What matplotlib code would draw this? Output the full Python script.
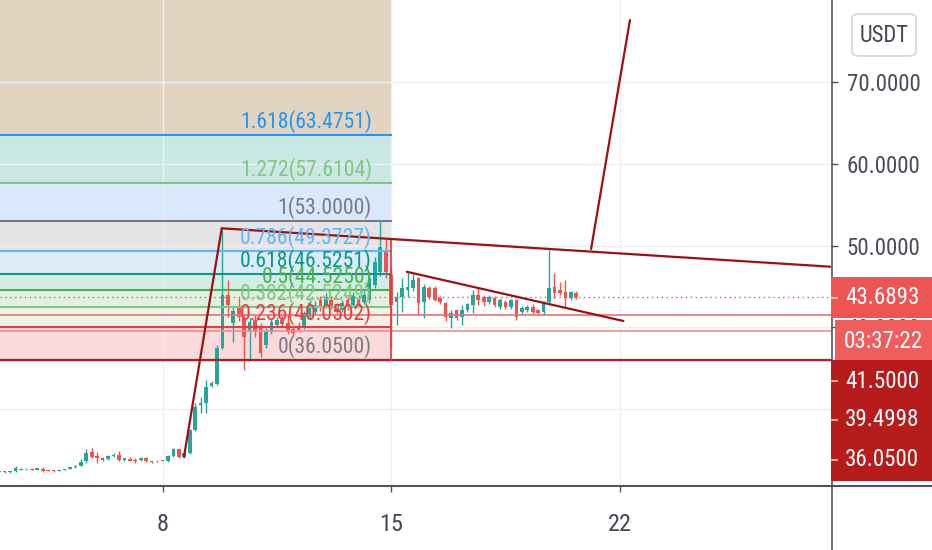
import matplotlib
matplotlib.use('Agg')
import matplotlib.pyplot as plt
from matplotlib import font_manager
from matplotlib.font_manager import FontProperties
from matplotlib.textpath import TextPath
from matplotlib.patches import Rectangle, FancyBboxPatch
from matplotlib.lines import Line2D

# ---------------- font choice (prefer a narrow face) ----------------
fm = font_manager.fontManager
names = {f.name for f in fm.ttflist}
BASE = None
for n in ['Liberation Sans Narrow', 'Roboto Condensed', 'Open Sans Condensed',
          'Noto Sans Condensed', 'DejaVu Sans Condensed']:
    if n in names:
        BASE = FontProperties(family=n)
        break
if BASE is None:
    for f in fm.ttflist:
        st = str(f.stretch)
        if (st in ('condensed', 'semi-condensed') or (st.isdigit() and int(st) < 500)) \
                and f.style == 'normal' and str(f.weight) in ('400', 'normal', 'regular') \
                and f.name in ('Roboto', 'Noto Sans', 'Open Sans', 'DejaVu Sans', 'Lato', 'Inter'):
            BASE = FontProperties(fname=f.fname)
            break
if BASE is None:
    BASE = FontProperties(family='Roboto')


def fp_fit(s, target_px):
    w = TextPath((0, 0), s, size=10, prop=BASE).get_extents().width  # points at size 10
    size = 10 * (target_px * 72 / 100) / w
    p = BASE.copy()
    p.set_size(size)
    return p

# ---------------- data ----------------
t0 = 3.0            # first 4h candle (day of month)
step = 1 / 6.0      # 4 hours
opens = [22.40, 22.40, 22.30, 22.40, 22.72, 22.65, 22.72, 22.56, 22.65, 22.56,
         22.50, 22.48, 22.56, 22.70, 22.89, 23.05, 23.70, 24.73, 24.31, 24.07,
         23.87, 24.22, 24.40, 23.79, 23.91, 23.79, 23.79, 24.07, 23.66, 23.63,
         23.79, 23.66, 24.27, 25.09, 24.11, 24.68, 27.45, 30.51, 30.79, 32.83,
         33.04, 37.44, 43.96, 40.50, 42.49, 41.00, 39.43, 40.90, 39.92, 37.84,
         39.43, 40.30, 40.90, 40.53, 39.80, 40.20, 40.05, 41.27, 41.88, 43.35,
         42.74, 43.35, 42.74, 42.12, 43.35, 42.74, 43.60, 43.10, 43.35, 45.18,
         46.77, 49.46, 46.40, 43.10, 43.70, 44.60, 44.80, 46.00, 43.10, 44.80,
         44.80, 43.60, 42.98, 41.10, 42.10, 41.30, 42.10, 42.74, 43.96, 43.70,
         43.10, 43.60, 42.49, 43.10, 42.49, 43.35, 41.90, 42.10, 42.50, 42.10,
         41.90, 43.10, 44.90, 44.60, 44.30, 43.60, 44.20]
highs = [22.48, 22.45, 22.50, 23.05, 22.80, 22.80, 22.78, 22.85, 22.89, 22.60,
         22.55, 22.62, 22.70, 22.95, 23.12, 23.87, 25.09, 25.21, 24.80, 24.15,
         24.35, 24.68, 24.89, 24.05, 24.19, 23.99, 24.12, 24.12, 23.72, 23.75,
         23.84, 24.40, 25.20, 25.15, 24.75, 27.60, 30.75, 31.52, 33.57, 33.44,
         37.80, 51.90, 45.79, 42.60, 43.60, 41.50, 41.20, 41.50, 40.53, 39.92,
         41.00, 41.30, 41.50, 41.50, 40.20, 40.60, 42.00, 43.30, 43.20, 43.80,
         44.20, 43.80, 43.00, 43.40, 43.70, 44.30, 44.00, 44.50, 46.80, 48.60,
         53.00, 50.80, 47.20, 44.30, 46.00, 46.80, 46.50, 46.20, 45.30, 45.00,
         45.00, 43.80, 43.10, 42.10, 42.30, 42.70, 43.00, 44.60, 44.80, 44.00,
         44.00, 43.80, 43.60, 43.30, 43.50, 43.50, 42.60, 42.70, 42.90, 42.30,
         43.20, 49.46, 46.60, 45.50, 45.80, 44.50, 44.40]
lows = [22.20, 22.25, 22.25, 22.35, 22.55, 22.60, 22.55, 22.52, 22.32, 22.42,
        22.38, 22.44, 22.52, 22.66, 22.85, 23.00, 23.38, 23.99, 23.46, 23.70,
        23.80, 24.15, 23.70, 23.72, 23.62, 23.38, 23.72, 23.55, 23.46, 23.58,
        23.65, 23.60, 24.20, 24.00, 24.00, 24.55, 27.35, 29.53, 29.53, 32.70,
        32.90, 37.30, 41.31, 38.20, 40.80, 34.80, 35.90, 38.80, 36.38, 37.48,
        39.20, 40.10, 40.00, 39.20, 39.00, 39.40, 39.80, 41.00, 41.60, 42.00,
        42.40, 42.30, 41.50, 41.90, 42.10, 42.50, 42.50, 42.90, 43.00, 44.80,
        46.30, 46.00, 37.50, 40.30, 41.90, 43.70, 44.50, 41.50, 41.20, 43.50,
        43.20, 42.90, 40.80, 39.90, 40.90, 40.30, 41.90, 41.80, 42.70, 42.60,
        42.90, 42.50, 42.20, 42.30, 42.30, 40.90, 41.50, 41.90, 41.60, 41.50,
        41.50, 42.90, 43.60, 43.90, 42.50, 43.40, 43.50]
closes = [22.28, 22.30, 22.44, 22.80, 22.60, 22.72, 22.60, 22.77, 22.48, 22.48,
          22.44, 22.56, 22.65, 22.89, 23.05, 23.58, 24.68, 24.19, 24.09, 23.79,
          24.27, 24.34, 23.79, 23.99, 23.70, 23.66, 24.07, 23.63, 23.54, 23.70,
          23.70, 24.27, 25.09, 24.11, 24.68, 27.45, 30.30, 30.79, 32.75, 33.20,
          37.48, 43.96, 42.74, 42.00, 41.30, 38.82, 40.66, 39.43, 36.87, 39.43,
          40.66, 40.90, 40.40, 39.43, 39.30, 39.70, 41.76, 42.98, 42.74, 42.37,
          43.72, 42.61, 41.88, 42.98, 42.37, 43.84, 42.74, 43.96, 46.04, 47.99,
          49.82, 46.77, 42.74, 43.70, 44.80, 44.90, 45.80, 42.98, 44.90, 43.70,
          43.35, 43.10, 41.27, 41.76, 41.10, 42.10, 42.86, 43.96, 43.35, 43.10,
          43.70, 42.74, 43.35, 42.49, 43.35, 41.27, 42.40, 42.50, 41.90, 41.76,
          42.98, 44.80, 44.20, 44.20, 43.60, 44.30, 43.6893]

fib_low, fib_high = 36.05, 53.0
fib_ratios = [0, 0.236, 0.382, 0.5, 0.618, 0.786, 1, 1.272, 1.618]
fib_colors = ['#787b86', '#f23645', '#81c784', '#4caf50', '#089981',
              '#64b5f6', '#787b86', '#81c784', '#2196f3']
fib_fills = ['#fbdadc', '#eef4e6', '#e2f1df', '#d4ece6', '#dcebf8',
             '#e4e4e6', '#d9e8fb', '#c9e8e4', '#e3d4c2']
fib_end = 15.0

trend_x = [[8.658, 9.813], [9.813, 28.44], [15.477, 22.11], [21.12, 22.31]]
trend_y = [[24.19, 52.11], [52.11, 47.42], [46.80, 40.78], [49.58, 77.57]]

ray_prices = [41.5, 39.4998, 36.05]
ray_colors = ['#e57373', '#ec8f8f', '#b71c1c']
last_price = 43.6893
countdown = '03:37:22'

x_ticks = [8, 15, 22]
y_ticks = [30, 40, 50, 60, 70]

# ---------------- figure ----------------
W, H = 932, 550
fig = plt.figure(figsize=(W / 100, H / 100), dpi=100)
AX_R, AX_B = 831.5, 486
ax = fig.add_axes([0, (H - AX_B) / H, AX_R / W, AX_B / H])
for s in ax.spines.values():
    s.set_visible(False)
XL = (3.025, 28.48)
ax.set_xlim(*XL)
ax.set_ylim(20.61, 80.02)

ax.set_axisbelow(True)
ax.grid(True, color='#eceff3', lw=1.0, zorder=0)

# fib fills and lines
levels = [fib_low + r * (fib_high - fib_low) for r in fib_ratios]
bounds = levels + [ax.get_ylim()[1] + 5]
for i in range(len(levels)):
    ax.fill_between([XL[0] - 1, fib_end], bounds[i], bounds[i + 1],
                    color=fib_fills[i], lw=0, zorder=0.5)
fib_fp = fp_fit("1.618(63.4751)", 129)
for r, p, c in zip(fib_ratios, levels, fib_colors):
    ax.plot([XL[0] - 1, fib_end], [p, p], color=c, lw=1.5, zorder=3)
    ax.annotate(f"{r:g}({p:.4f})", xy=(14.41, p), xytext=(0, 1.5),
                textcoords='offset points', ha='right', va='bottom',
                fontproperties=fib_fp, color=c, zorder=5)

# candles
xs = [t0 + i * step for i in range(len(opens))]
up, dn = '#26a69a', '#ef5350'
cols = [up if c >= o else dn for o, c in zip(opens, closes)]
ax.vlines(xs, lows, highs, colors=cols, lw=1.0, zorder=2)
bodies = [max(abs(c - o), 0.08) for o, c in zip(opens, closes)]
bottoms = [min(o, c) for o, c in zip(opens, closes)]
ax.bar(xs, bodies, bottom=bottoms, width=0.11, color=cols, lw=0, zorder=2.1)

# horizontal rays
ax.axhline(last_price, color='#ef5350', lw=1.0, ls=(0, (1, 2.5)), zorder=3)
for p, c in zip(ray_prices, ray_colors):
    ax.axhline(p, color=c, lw=1.6 if p == 36.05 else 1.2, zorder=3.2)
ax.plot([fib_end, fib_end], [fib_low, 50.7], color='#e53935', lw=1.2, zorder=3.2)

# trend lines
for tx, ty in zip(trend_x, trend_y):
    ax.plot(tx, ty, color='#9b1111', lw=1.6, zorder=4, solid_capstyle='round')

# axes ticks
ax.set_xticks(x_ticks)
ax.set_xticklabels([str(v) for v in x_ticks])
ax.set_yticks(y_ticks)
ax.set_yticklabels([f"{v:.4f}" for v in y_ticks])
ax.yaxis.tick_right()
ax.tick_params(axis='y', direction='out', length=4, width=1, color='#50535e',
               pad=7, labelcolor='#4a4e59')
ax.tick_params(axis='x', direction='out', length=4.5, width=1, color='#50535e',
               pad=15, labelcolor='#434651')
lab_fp = fp_fit("70.0000", 72)
for t in ax.get_yticklabels():
    t.set_fontproperties(lab_fp)
x_fp = fp_fit("15", 21)
for t in ax.get_xticklabels():
    t.set_fontproperties(x_fp)

# frame lines
fig.add_artist(Line2D([0, 1], [(H - AX_B) / H] * 2, transform=fig.transFigure,
                      color='#50535e', lw=1.5, zorder=10))
fig.add_artist(Line2D([AX_R / W] * 2, [0, 1], transform=fig.transFigure,
                      color='#50535e', lw=1.2, zorder=10))


def fx(x):
    return x / W


def fy(y):
    return 1 - y / H

# USDT box
fig.add_artist(FancyBboxPatch((fx(852), fy(56)), fx(916) - fx(852), fy(14) - fy(56),
                              boxstyle='round,pad=0,rounding_size=0.008',
                              transform=fig.transFigure, facecolor='white',
                              edgecolor='#d6d8de', lw=1.3, zorder=11))
fig.text(fx(884), fy(35.5), 'USDT', ha='center', va='center',
         fontproperties=fp_fit('USDT', 47), color='#434651', zorder=12)


def box(x0, y0, x1, y1, color):
    fig.add_artist(Rectangle((fx(x0), fy(y1)), fx(x1) - fx(x0), fy(y0) - fy(y1),
                             transform=fig.transFigure, facecolor=color,
                             edgecolor='none', zorder=11))

box(830.5, 277, 933, 317.5, '#ef5454')
box(834.7, 320, 933, 360, '#f05d5d')
box(830.5, 360, 933, 481, '#b71c1c')
fig.text(fx(882), fy(298), f"{last_price:.4f}", ha='center', va='center',
         fontproperties=lab_fp, color='white', zorder=12)
fig.text(fx(883), fy(342), countdown, ha='center', va='center',
         fontproperties=fp_fit(countdown, 77), color='white', zorder=12)
for p, yy in zip(ray_prices, [381, 420, 460]):
    fig.text(fx(882), fy(yy), f"{p:.4f}", ha='center', va='center',
             fontproperties=lab_fp, color='white', zorder=12)
    fig.add_artist(Line2D([fx(832), fx(837)], [fy(yy)] * 2, transform=fig.transFigure,
                          color='#f3c4c4', lw=1.2, zorder=12))
fig.add_artist(Line2D([fx(832), fx(837)], [fy(298)] * 2, transform=fig.transFigure,
                      color='#ffd6d6', lw=1.2, zorder=12))

fig.savefig('out.png', dpi=100, facecolor='white')
